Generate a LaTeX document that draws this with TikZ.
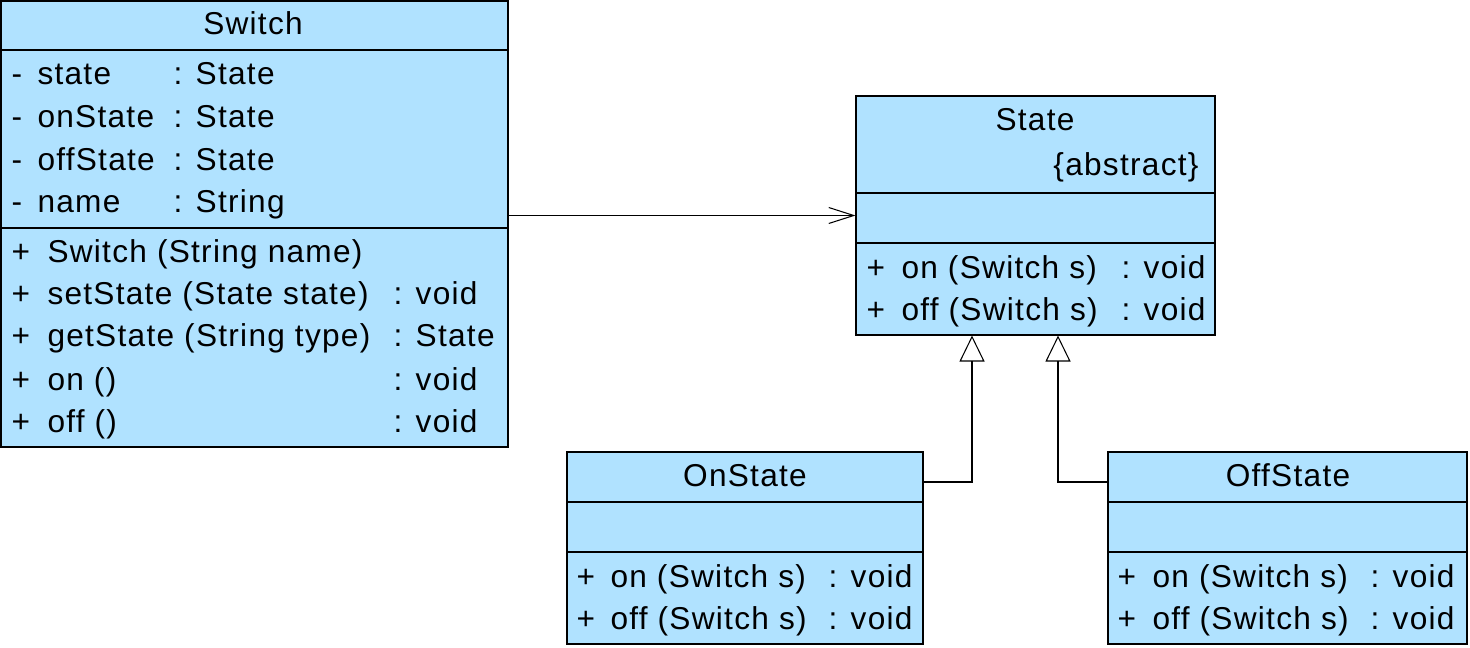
\documentclass[tikz,border=0pt]{standalone}
\usepackage{fontspec}
\setmainfont{Liberation Sans}[LetterSpace=4]
\usetikzlibrary{arrows.meta,fit}
\definecolor{classblue}{RGB}{176,226,255}

\begin{document}
\begin{tikzpicture}[x=0.02cm,y=-0.02cm,line width=0.6pt,
    every node/.style={font=\fontsize{18}{21}\selectfont,inner sep=0pt},
    classbox/.style={draw,fill=classblue},
    txt/.style={anchor=base west},
    ttl/.style={anchor=base},
    assoc/.style={-{Straight Barb[length=0.5cm,width=0.32cm]}},
    inherit/.style={-{Triangle[open,length=0.52cm,width=0.5cm]}}]
  \useasboundingbox (0,0) rectangle (1470,648);

  % Switch
  \node[classbox,fit={(1,1)(508,447)}] (sw) {};
  \draw (1,50) -- (508,50);
  \draw (1,228) -- (508,228);
  \node[ttl] (swT) at (253,35) {Switch};
  \foreach \y/\n/\t [count=\i] in {85/state/State,128/onState/State,
      171/offState/State,213/name/String} {
    \node[txt] (swV\i) at (11,\y) {-};
    \node[txt] (swA\i) at (37,\y) {\n};
    \node[txt] (swAt\i) at (173,\y) {: \t};
  }
  \node[txt] (swP1) at (11,263) {+};
  \node[txt] (swM1) at (47,263) {Switch (String name)};
  \foreach \y/\n/\t [count=\i from 2] in {305/setState (State state)/void,
      347/getState (String type)/State,390/on ()/void,432/off ()/void} {
    \node[txt] (swP\i) at (11,\y) {+};
    \node[txt] (swM\i) at (47,\y) {\n};
    \node[txt] (swMt\i) at (393,\y) {: \t};
  }

  % State
  \node[classbox,fit={(856,96)(1215,335)}] (st) {};
  \draw (856,193) -- (1215,193);
  \draw (856,243) -- (1215,243);
  \node[ttl] (stT) at (1035,131) {State};
  \node[anchor=base east] (stAbs) at (1199,176) {\{abstract\}};
  \foreach \y/\n [count=\i] in {279/on,321/off} {
    \node[txt] (stP\i) at (866,\y) {+};
    \node[txt] (stM\i) at (901,\y) {\n\ (Switch s)};
    \node[txt] (stMt\i) at (1121,\y) {: void};
  }

  % OnState
  \node[classbox,fit={(567,452)(923,644)}] (onS) {};
  \draw (567,502) -- (923,502);
  \draw (567,552) -- (923,552);
  \node[ttl] (onT) at (745,486) {OnState};
  \foreach \y/\n [count=\i] in {587/on,629/off} {
    \node[txt] (onP\i) at (576,\y) {+};
    \node[txt] (onM\i) at (610,\y) {\n\ (Switch s)};
    \node[txt] (onMt\i) at (828,\y) {: void};
  }

  % OffState
  \node[classbox,fit={(1108,452)(1467,644)}] (offS) {};
  \draw (1108,502) -- (1467,502);
  \draw (1108,552) -- (1467,552);
  \node[ttl] (offT) at (1288,486) {OffState};
  \foreach \y/\n [count=\i] in {587/on,629/off} {
    \node[txt] (offP\i) at (1117,\y) {+};
    \node[txt] (offM\i) at (1152,\y) {\n\ (Switch s)};
    \node[txt] (offMt\i) at (1370,\y) {: void};
  }

  % connectors
  \coordinate (onJ) at (972,482);
  \coordinate (offJ) at (1058,482);
  \draw[assoc] (st.west -| sw.east) -- (st.west);
  \draw[inherit] (onS.east |- onJ) -| (st.south -| onJ);
  \draw[inherit] (offS.west |- offJ) -| (st.south -| offJ);
\end{tikzpicture}
\end{document}
